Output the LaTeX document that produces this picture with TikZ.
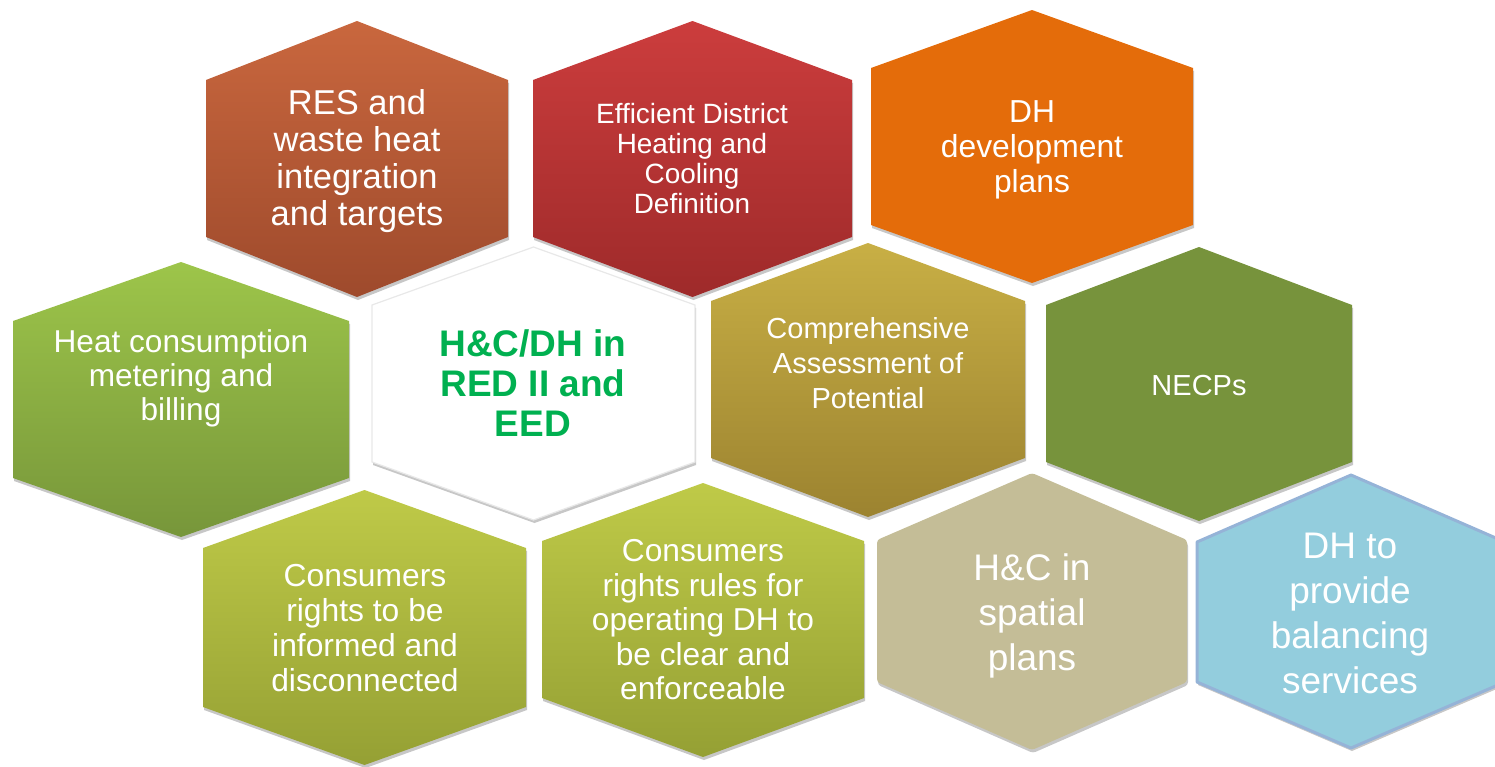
\documentclass[tikz,border=0pt]{standalone}
\usepackage{fontspec}
\setmainfont{Liberation Sans}
\usetikzlibrary{shadows}
\definecolor{hAt}{HTML}{C9673E}\definecolor{hAb}{HTML}{9E4A2C}
\definecolor{hBt}{HTML}{CC3D3D}\definecolor{hBb}{HTML}{9E2A2A}
\definecolor{hC}{HTML}{E46C0A}
\definecolor{hDt}{HTML}{9DC54A}\definecolor{hDb}{HTML}{77963A}
\definecolor{hFt}{HTML}{C8AF45}\definecolor{hFb}{HTML}{9C8330}
\definecolor{hG}{HTML}{77933C}
\definecolor{hHt}{HTML}{BFCA48}\definecolor{hHb}{HTML}{95A034}
\definecolor{hJ}{HTML}{C4BD97}
\definecolor{hK}{HTML}{93CDDD}\definecolor{hKb}{HTML}{95B3D7}
\definecolor{tgreen}{HTML}{00B050}
% #1 style, #2 cx, #3 top, #4 upper y, #5 lower y, #6 bottom, #7 half width
\newcommand{\hexa}[7]{\path[#1] (#2,#3) -- ({#2+#7},#4) -- ({#2+#7},#5) -- (#2,#6) -- ({#2-#7},#5) -- ({#2-#7},#4) -- cycle;}
\tikzset{
  hexbox/.style={drop shadow={shadow xshift=1pt, shadow yshift=-3pt, opacity=0.22, fill=black}},
  lbl/.style={text=white, align=center, inner sep=0pt},
}
\begin{document}
\begin{tikzpicture}[x=1pt,y=-1pt]
\useasboundingbox (0,0) rectangle (1495,766);
% hexagons
\hexa{hexbox, top color=hAt, bottom color=hAb}{357}{21}{80}{237}{297}{151}
\hexa{hexbox, top color=hBt, bottom color=hBb}{692.5}{21}{80}{237}{297}{159.5}
\hexa{hexbox, fill=hC}{1032}{10}{68}{225}{283}{161}
\hexa{hexbox, top color=hDt, bottom color=hDb}{181}{262}{321}{478}{537}{168}
\hexa{hexbox, fill=white, draw=black!9, line width=1.2pt}{533.5}{247}{305}{462}{520}{161.5}
\hexa{hexbox, top color=hFt, bottom color=hFb}{868}{243}{301}{458}{517}{157}
\hexa{hexbox, fill=hG}{1199}{247}{305}{462}{521}{153}
\hexa{hexbox, top color=hHt, bottom color=hHb}{364.5}{490}{548}{707}{765}{161.5}
\hexa{hexbox, top color=hHt, bottom color=hHb}{703}{483}{541}{698}{757}{161}
\hexa{hexbox, fill=hJ, rounded corners=3pt}{1032}{473}{540}{682}{750}{155}
\hexa{hexbox, fill=hK, draw=hKb, line width=3pt, line join=round}{1351}{475}{542}{682}{748}{154}
% labels
\node[lbl, font=\fontsize{34.5}{37}\selectfont] (t1) at (357,161) {RES and\\waste heat\\integration\\and targets};
\node[lbl, font=\fontsize{27.9}{30}\selectfont] (t2) at (692,159) {Efficient District\\Heating and\\Cooling\\Definition};
\node[lbl, font=\fontsize{31.8}{35}\selectfont] (t3) at (1032,150) {DH\\development\\plans};
\node[lbl, font=\fontsize{31.6}{34}\selectfont] (t4) at (181,378) {Heat consumption\\metering and\\billing};
\node[lbl, text=tgreen, font=\fontsize{37}{40}\selectfont\bfseries] (t5) at (533,383) {H\&C/DH in\\RED II and\\EED};
\node[lbl, font=\fontsize{29}{35}\selectfont] (t6) at (868,363) {Comprehensive\\Assessment of\\Potential};
\node[lbl, font=\fontsize{29}{35}\selectfont] (t7) at (1199,386) {NECPs};
\node[lbl, font=\fontsize{31.8}{35}\selectfont] (t8) at (365,628) {Consumers\\rights to be\\informed and\\disconnected};
\node[lbl, font=\fontsize{31.7}{34.5}\selectfont] (t9) at (703,620) {Consumers\\rights rules for\\operating DH to\\be clear and\\enforceable};
\node[lbl, font=\fontsize{37}{45}\selectfont] (t10) at (1032,616) {H\&C in\\spatial\\plans};
\node[lbl, font=\fontsize{37}{45}\selectfont] (t11) at (1350,613) {DH to\\provide\\balancing\\services};
\end{tikzpicture}
\end{document}
